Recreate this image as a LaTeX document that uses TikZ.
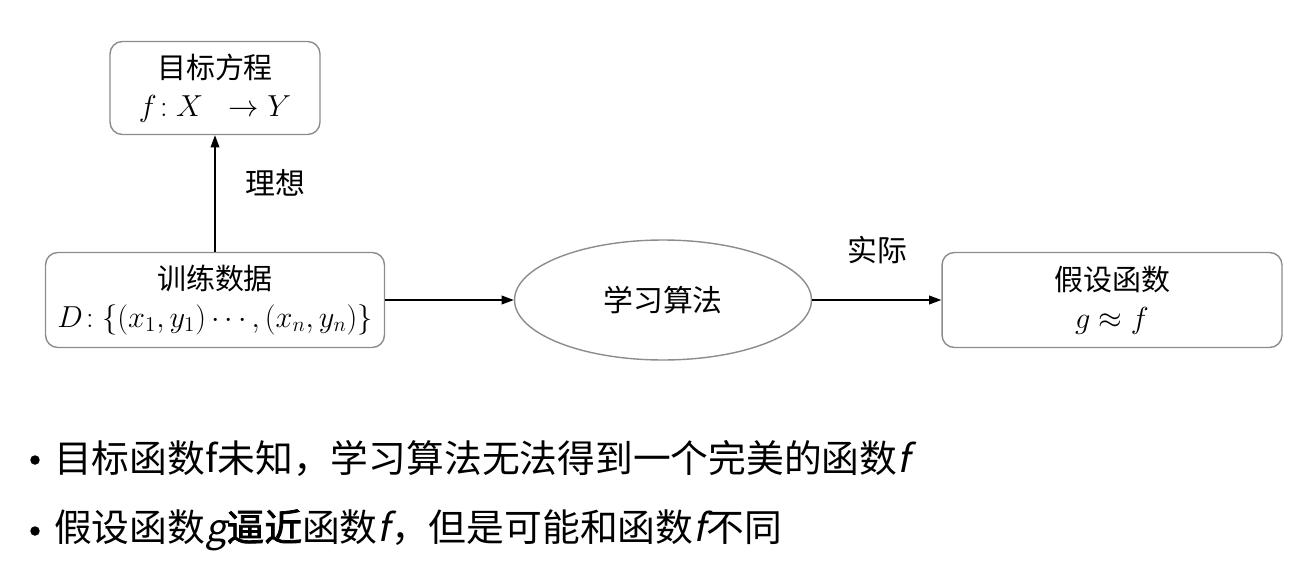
\documentclass[tikz,border=0pt]{standalone}
\usepackage{fontspec}
\setmainfont{Noto Sans CJK SC}[AutoFakeSlant=0.2,AutoFakeBold=2]
\usetikzlibrary{shapes.geometric,arrows.meta,positioning}
\definecolor{BoxGray}{HTML}{8C8C8C}

\begin{document}
\begin{tikzpicture}[x=0.02cm,y=-0.02cm,
  box/.style={draw=BoxGray, rounded corners=7pt, line width=0.8pt, align=center,
    font=\fontsize{16.5}{21.5}\selectfont},
  algobox/.style={ellipse, draw=BoxGray, line width=0.8pt, inner sep=0pt,
    font=\fontsize{17}{21}\selectfont},
  flow/.style={-{Triangle[length=7pt,width=5pt]}, line width=0.8pt},
  lbl/.style={font=\fontsize{17}{21}\selectfont},
  dot/.style={circle, fill, inner sep=0pt, minimum size=0.19cm},
  item/.style={anchor=west, font=\fontsize{21.5}{26}\selectfont}]
  \useasboundingbox (0,0) rectangle (1294,561);

  % --- diagram ---
  \node[box, minimum width=4.2cm, minimum height=1.86cm] (target) at (215,88)
    {目标方程\\ $f\!:X\;\;\to Y$};
  \node[box, minimum width=6.78cm, minimum height=1.9cm] (data) at (215,300)
    {训练数据\\ $D\!:\{(x_1,y_1)\cdots,(x_n,y_n)\}$};
  \node[algobox, minimum width=5.94cm, minimum height=2.4cm] (algo) at (663,300) {学习算法};
  \node[box, minimum width=6.8cm, minimum height=1.9cm] (hyp) at (1112,300)
    {假设函数\\ $g\approx f$};

  \draw[flow] (data) -- (target);
  \draw[flow] (data) -- (algo);
  \draw[flow] (algo) -- (hyp);
  \node[lbl] (ideal) at (275,183) {理想};
  \node[lbl] (real) at (877,250) {实际};

  % --- bullets ---
  \node[dot] (dot1) at (35,460) {};
  \node[item] (item1) at (48,458) {目标函数f未知，学习算法无法得到一个完美的函数\textit{f}};
  \node[dot] (dot2) at (35,531) {};
  \node[item] (item2) at (48,530) {假设函数\textit{g}\textbf{逼近}函数\textit{f}，但是可能和函数\textit{f}不同};
\end{tikzpicture}
\end{document}
